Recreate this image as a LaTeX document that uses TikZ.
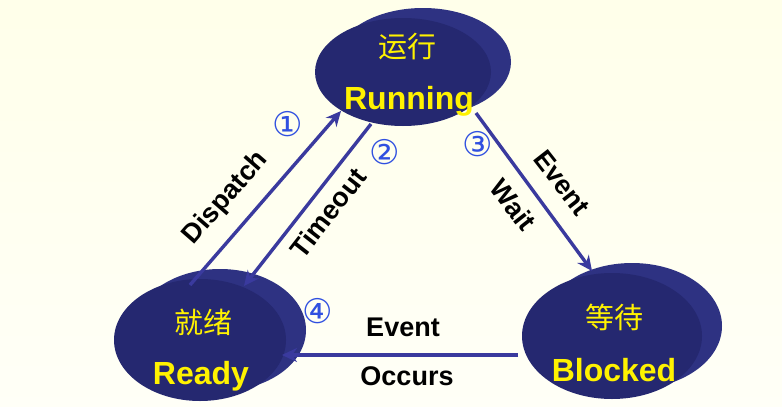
\documentclass[tikz,border=0pt]{standalone}
\usepackage{fontspec}
\usetikzlibrary{arrows.meta}
\setmainfont{Liberation Sans}
\newfontfamily\cjk{Noto Sans CJK SC}
\newfontfamily\dv{DejaVu Sans}
\definecolor{ellipsefront}{HTML}{252870}
\definecolor{ellipseback}{HTML}{2E3282}
\definecolor{arrowcol}{HTML}{3A3A9E}
\definecolor{numcol}{HTML}{3050E0}
\begin{document}
\begin{tikzpicture}[x=1pt,y=-1pt,
  arr/.style={draw=arrowcol, line width=3.4pt, -{Stealth[length=15pt,width=14pt]}},
  lbl/.style={font=\bfseries\fontsize{27}{29}\selectfont, text=black, inner sep=0pt},
  num/.style={font=\dv\fontsize{34}{36}\selectfont, text=numcol, inner sep=0pt},
  zh/.style={font=\cjk\fontsize{29}{31}\selectfont, text=yellow},
  en/.style={font=\bfseries\fontsize{32}{34}\selectfont, text=yellow}]
\shade[top color=white!30!yellow!12, bottom color=white!60!yellow!8] (0,0) rectangle (782,407);
\useasboundingbox (0,0) rectangle (782,407);
\foreach \cx/\cy/\w/\h/\nm in {403/72/176/108/run, 200/340/172/122/rdy, 612/336/180/126/blk}{
  \fill[ellipseback] (\cx+20,\cy-10) ellipse ({\w/2} and {\h/2});
  \fill[ellipsefront] (\cx,\cy) ellipse ({\w/2} and {\h/2});
  \coordinate (\nm) at (\cx,\cy);
}
\node[zh] (runzh) at (407,47) {运行};
\node[en] (runen) at (409,101) {Running};
\node[zh] (rdyzh) at (203,322) {就绪};
\node[en] (rdyen) at (201,376) {Ready};
\node[zh] (blkzh) at (614,317) {等待};
\node[en] (blken) at (614,370) {Blocked};
\coordinate (d1) at (190,285); \coordinate (d2) at (341,111);
\coordinate (t1) at (371,124); \coordinate (t2) at (244,286);
\coordinate (w1) at (476,113); \coordinate (w2) at (592,271);
\coordinate (o1) at (518,355); \coordinate (o2) at (282,355);
\draw[arr] (d1) -- (d2);
\draw[arr] (t1) -- (t2);
\draw[arr] (w1) -- (w2);
\draw[arr] (o1) -- (o2);
\node[lbl, rotate=49] (ldisp) at (226,198) {Dispatch};
\node[lbl, rotate=52] (ltime) at (328,213) {Timeout};
\node[lbl, rotate=-52] (lev1) at (562,183) {Event};
\node[lbl, rotate=-52] (lwait) at (513,205) {Wait};
\node[lbl] (lev2) at (403,327) {Event};
\node[lbl] (locc) at (407,376) {Occurs};
\node[num] (n1) at (288,124) {①};
\node[num] (n2) at (385,152) {②};
\node[num] (n3) at (478,144) {③};
\node[num] (n4) at (318,311) {④};
\end{tikzpicture}
\end{document}
